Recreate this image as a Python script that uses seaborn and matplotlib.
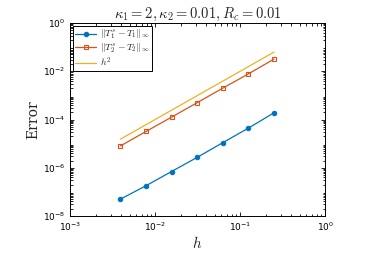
import numpy as np
import pandas as pd
import matplotlib
matplotlib.use("Agg")
import matplotlib.pyplot as plt
import seaborn as sns

h = [0.00390625, 0.0078125, 0.015625, 0.03125, 0.0625, 0.125, 0.25]
err1 = [5.0e-8, 1.8e-7, 7.0e-7, 2.7e-6, 1.1e-5, 4.4e-5, 1.9e-4]
err2 = [8.0e-6, 3.2e-5, 1.26e-4, 5.0e-4, 2.0e-3, 7.8e-3, 3.2e-2]
ref = [1.53e-5, 6.10e-5, 2.44e-4, 9.77e-4, 3.91e-3, 1.56e-2, 6.25e-2]

df = pd.DataFrame({"h": h, "e1": err1, "e2": err2, "ref": ref})

sns.set_style("ticks")
plt.rcParams["mathtext.fontset"] = "cm"
plt.rcParams["font.family"] = ["DejaVu Sans"]

fig = plt.figure(figsize=(3.67, 2.59), dpi=100)
ax = fig.add_axes([0.191, 0.166, 0.695, 0.745])

sns.lineplot(data=df, x="h", y="e1", ax=ax, color="#0072BD", marker="o",
             markersize=3.2, markeredgecolor="#0072BD", linewidth=0.9,
             label=r"$\|T_1^s-T_1\|_\infty$")
sns.lineplot(data=df, x="h", y="e2", ax=ax, color="#D95319", marker="s",
             markersize=3.4, markerfacecolor="none", markeredgecolor="#D95319",
             markeredgewidth=0.8, linewidth=0.9, label=r"$\|T_2^s-T_2\|_\infty$")
sns.lineplot(data=df, x="h", y="ref", ax=ax, color="#EDB120", linewidth=0.9,
             label=r"$h^2$")

ax.set_xscale("log")
ax.set_yscale("log")
ax.set_xlim(1e-3, 1)
ax.set_ylim(1e-8, 1)
ax.set_xticks([1e-3, 1e-2, 1e-1, 1])
ax.set_yticks([1e-8, 1e-6, 1e-4, 1e-2, 1])
ax.yaxis.set_minor_locator(matplotlib.ticker.LogLocator(base=10, subs=np.arange(2, 10), numticks=20))
ax.tick_params(which="both", direction="in", top=True, right=True, labelsize=6.5,
               width=0.6, colors="black", labelcolor="black")
ax.tick_params(which="major", length=3)
ax.tick_params(which="minor", length=1.8)
for s in ax.spines.values():
    s.set_linewidth(0.7)
    s.set_color("black")

ax.set_xlabel(r"$h$", fontsize=11, labelpad=1)
ax.set_ylabel("Error", fontsize=10, labelpad=2)
ax.yaxis.label.set_fontfamily(["DejaVu Serif"])
ax.set_title(r"$\kappa_1=2, \kappa_2=0.01, R_c=0.01$", fontsize=10.5, pad=3)

leg = ax.legend(loc="upper left", fontsize=7, frameon=True, fancybox=False,
                borderpad=0.2, labelspacing=0.05, handlelength=2.2,
                handletextpad=0.4, borderaxespad=0.3)
leg.get_frame().set_edgecolor("black")
leg.get_frame().set_linewidth(0.7)
leg.get_frame().set_alpha(1)

fig.savefig("out.png", dpi=100)
